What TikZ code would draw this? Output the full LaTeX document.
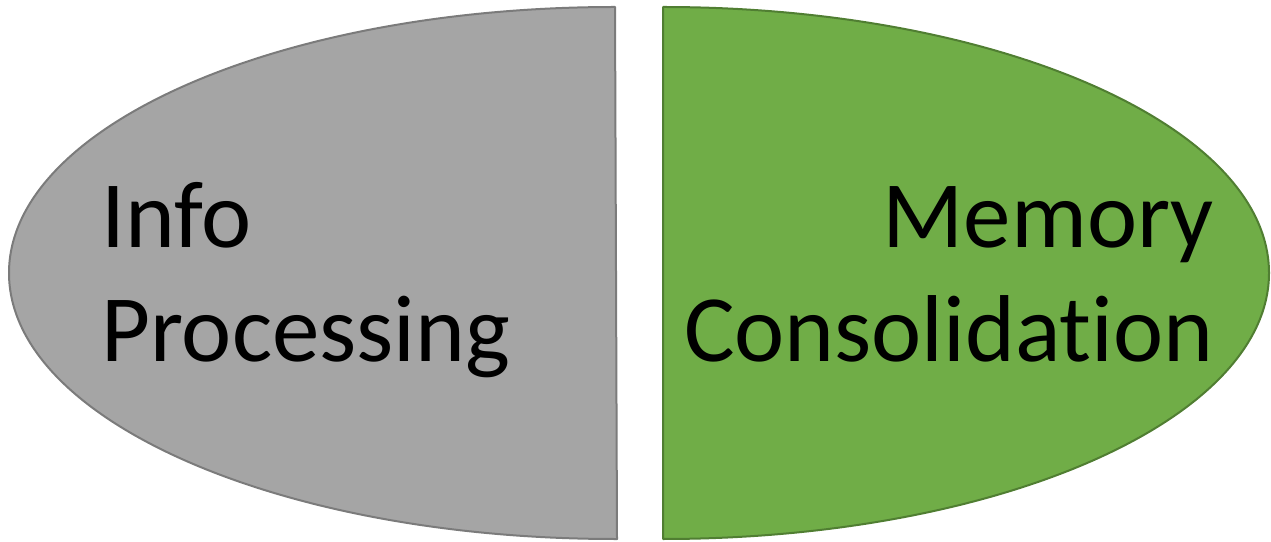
\documentclass[tikz,border=0pt]{standalone}
\usepackage{fontspec}
\setmainfont{Carlito}[Ligatures=CommonOff]
\usepackage{tikz}

\definecolor{halfgray}{HTML}{A5A5A5}
\definecolor{halfgrayline}{HTML}{7B7B7B}
\definecolor{halfgreen}{HTML}{70AD47}
\definecolor{halfgreenline}{HTML}{507E32}

\begin{document}
\begin{tikzpicture}[x=1pt,y=1pt,
 half/.style={line width=2pt,line join=round},
 word/.style={inner sep=0pt,font=\fontsize{95}{114}\selectfont}]
\useasboundingbox (0,0) rectangle (1271,541);
% left and right halves
\draw[half,fill=halfgray,draw=halfgrayline] (615,534) arc[start angle=90,end angle=270,x radius=606,y radius=266] -- (617,2) -- cycle;
\draw[half,fill=halfgreen,draw=halfgreenline] (663,534) arc[start angle=90,end angle=-90,x radius=606,y radius=266] -- cycle;
\node[word,anchor=base west] (info) at (101,293) {Info};
\node[word,anchor=base west] (proc) at (101,179) {Processing};
\node[word,anchor=base east] (mem) at (1214,293) {Memory};
\node[word,anchor=base east] (cons) at (1214,179) {Consolidation};
\end{tikzpicture}
\end{document}
